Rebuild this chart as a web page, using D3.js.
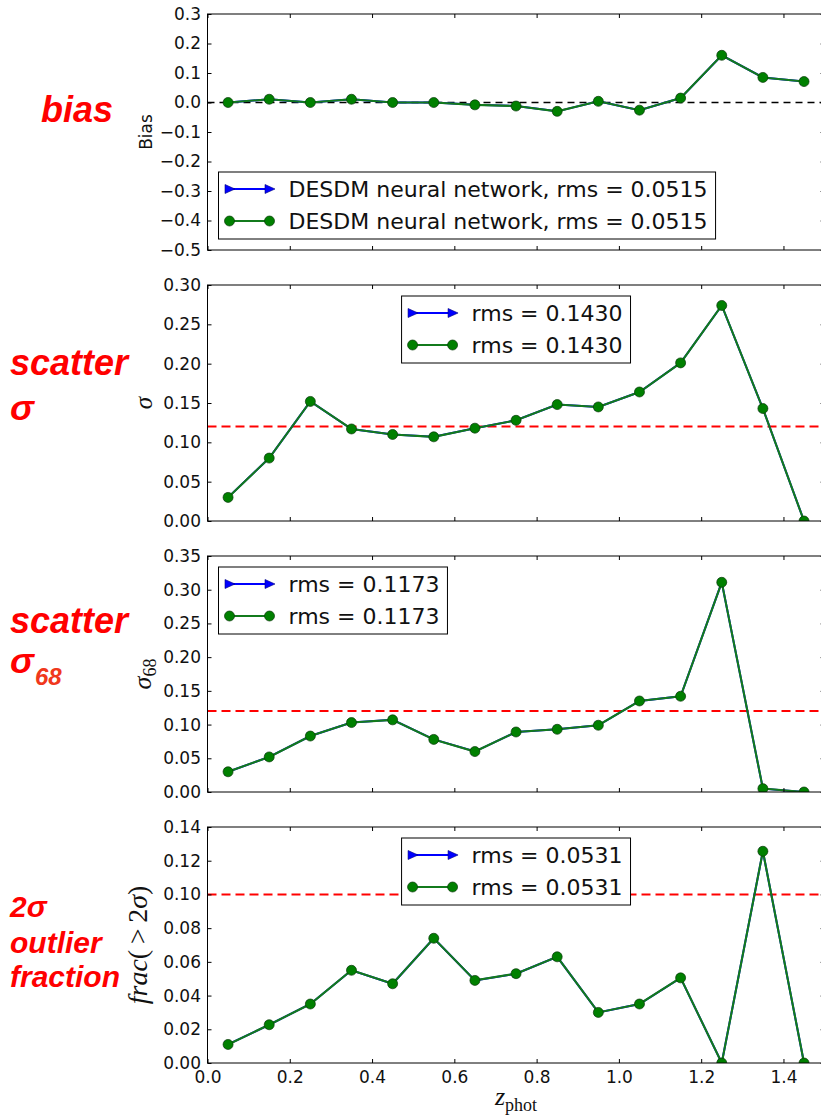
<!DOCTYPE html>
<html>
<head>
<meta charset="utf-8">
<script src="https://cdnjs.cloudflare.com/ajax/libs/d3/7.8.5/d3.min.js"></script>
<style>
  body { margin: 0; background: #fff; }
  svg { display: block; }
</style>
</head>
<body>
<div id="chart"></div>
<script>
// ---------------- data ----------------
var zBins = [0.05, 0.15, 0.25, 0.35, 0.45, 0.55, 0.65, 0.75, 0.85, 0.95, 1.05, 1.15, 1.25, 1.35, 1.45];

var biasValues    = [0.000, 0.011, 0.000, 0.011, 0.000, 0.000, -0.008, -0.012, -0.030, 0.004, -0.026, 0.015, 0.160, 0.085, 0.071];
var sigmaValues   = [0.030, 0.080, 0.152, 0.117, 0.110, 0.107, 0.118, 0.128, 0.148, 0.145, 0.164, 0.201, 0.274, 0.143, 0.000];
var sigma68Values = [0.030, 0.052, 0.083, 0.103, 0.107, 0.078, 0.060, 0.089, 0.093, 0.099, 0.135, 0.142, 0.311, 0.005, 0.000];
var outlierValues = [0.011, 0.0227, 0.035, 0.055, 0.047, 0.074, 0.049, 0.053, 0.063, 0.030, 0.035, 0.0505, 0.000, 0.1256, 0.000];

var xTicks        = [0.0, 0.2, 0.4, 0.6, 0.8, 1.0, 1.2, 1.4];
var biasTicks     = [-0.5, -0.4, -0.3, -0.2, -0.1, 0.0, 0.1, 0.2, 0.3];
var sigmaTicks    = [0.00, 0.05, 0.10, 0.15, 0.20, 0.25, 0.30];
var sigma68Ticks  = [0.00, 0.05, 0.10, 0.15, 0.20, 0.25, 0.30, 0.35];
var outlierTicks  = [0.00, 0.02, 0.04, 0.06, 0.08, 0.10, 0.12, 0.14];

var referenceLevels = [0.0, 0.12, 0.12, 0.10];
var legendLabels = [
  "DESDM neural network, rms = 0.0515",
  "rms = 0.1430",
  "rms = 0.1173",
  "rms = 0.0531"
];

// ---------------- style / layout ----------------
var attrs = {
  width: 821,
  height: 1118,
  plotLeft: 207.5,
  plotRight: 824.6,
  panelTop: 14,
  panelHeight: 236,
  panelGap: 35,
  tickLength: 4,
  tickFont: '"DejaVu Sans", sans-serif',
  tickFontSize: 17,
  legendFontSize: 22,
  mathFont: '"Liberation Serif", "DejaVu Serif", serif',
  sideFont: '"Liberation Sans", Arial, sans-serif',
  greenLine: '#137a1c',
  greenFill: '#008000',
  markerEdge: '#0a3a0a',
  blue: '#0000ff',
  red: '#ff0000'
};

var svg = d3.select('#chart').append('svg')
  .attr('width', attrs.width)
  .attr('height', attrs.height);

var x = d3.scaleLinear().domain([0, 1.5]).range([attrs.plotLeft, attrs.plotRight]);

var panels = [
  { values: biasValues,    domain: [-0.5, 0.3],  ticks: biasTicks,    fmt: '.1f', refColor: '#000', legendLoc: 'lowerleft'  },
  { values: sigmaValues,   domain: [0, 0.30],    ticks: sigmaTicks,   fmt: '.2f', refColor: attrs.red, legendLoc: 'uppercenter' },
  { values: sigma68Values, domain: [0, 0.35],    ticks: sigma68Ticks, fmt: '.2f', refColor: attrs.red, legendLoc: 'upperleft' },
  { values: outlierValues, domain: [0, 0.14],    ticks: outlierTicks, fmt: '.2f', refColor: attrs.red, legendLoc: 'uppercenter' }
];

function styleTicks(g, showText) {
  g.select('.domain').remove();
  g.selectAll('.tick line').attr('stroke', '#000').attr('stroke-width', 1);
  g.selectAll('.tick text')
    .attr('font-family', attrs.tickFont)
    .attr('font-size', attrs.tickFontSize)
    .attr('fill', '#111');
  if (!showText) g.selectAll('.tick text').remove();
}

// '>' marker of the blue series
function rightMarker(sel, cx, cy, s) {
  sel.append('path')
    .attr('d', 'M' + (cx - s) + ',' + (cy - s) + 'L' + (cx + s + 1) + ',' + cy + 'L' + (cx - s) + ',' + (cy + s) + 'Z')
    .attr('fill', attrs.blue)
    .attr('stroke', '#00007a')
    .attr('stroke-width', 0.6);
}

panels.forEach(function (p, i) {
  var top = attrs.panelTop + i * (attrs.panelHeight + attrs.panelGap);
  var bottom = top + attrs.panelHeight;
  var isLast = i === panels.length - 1;
  var y = d3.scaleLinear().domain(p.domain).range([bottom, top]);

  var g = svg.append('g').attr('class', 'panel panel' + i);

  g.append('clipPath').attr('id', 'clip' + i)
    .append('rect')
    .attr('x', attrs.plotLeft).attr('y', top)
    .attr('width', attrs.plotRight - attrs.plotLeft).attr('height', attrs.panelHeight);

  var plot = g.append('g').attr('clip-path', 'url(#clip' + i + ')');

  // reference level
  plot.append('line')
    .attr('x1', attrs.plotLeft).attr('x2', attrs.plotRight)
    .attr('y1', y(referenceLevels[i])).attr('y2', y(referenceLevels[i]))
    .attr('stroke', p.refColor)
    .attr('stroke-width', i === 0 ? 1.4 : 2)
    .attr('stroke-dasharray', i === 0 ? '7,5' : '9,5');

  var pts = zBins.map(function (z, k) { return [z, p.values[k]]; });
  var line = d3.line().x(function (d) { return x(d[0]); }).y(function (d) { return y(d[1]); });

  // blue series (hidden underneath the green one)
  plot.append('path').datum(pts)
    .attr('d', line).attr('fill', 'none')
    .attr('stroke', attrs.blue).attr('stroke-width', 2);
  pts.forEach(function (d) { rightMarker(plot, x(d[0]), y(d[1]), 3.5); });

  // green series
  plot.append('path').datum(pts)
    .attr('d', line).attr('fill', 'none')
    .attr('stroke', attrs.greenLine).attr('stroke-width', 2.1);
  plot.selectAll('circle.pt').data(pts).enter().append('circle')
    .attr('class', 'pt')
    .attr('cx', function (d) { return x(d[0]); })
    .attr('cy', function (d) { return y(d[1]); })
    .attr('r', 5)
    .attr('fill', attrs.greenFill)
    .attr('stroke', attrs.markerEdge)
    .attr('stroke-width', 0.7);

  // axes with inward ticks
  var yFmt = d3.format(p.fmt);
  g.append('g').attr('transform', 'translate(' + attrs.plotLeft + ',0)')
    .call(d3.axisLeft(y).tickValues(p.ticks).tickFormat(yFmt)
      .tickSizeInner(-attrs.tickLength).tickSizeOuter(0).tickPadding(6.5))
    .call(styleTicks, true);
  g.append('g').attr('transform', 'translate(' + attrs.plotRight + ',0)')
    .call(d3.axisRight(y).tickValues(p.ticks).tickSizeInner(-attrs.tickLength).tickSizeOuter(0))
    .call(styleTicks, false);
  g.append('g').attr('transform', 'translate(0,' + top + ')')
    .call(d3.axisTop(x).tickValues(xTicks).tickSizeInner(-attrs.tickLength).tickSizeOuter(0))
    .call(styleTicks, false);
  g.append('g').attr('transform', 'translate(0,' + bottom + ')')
    .call(d3.axisBottom(x).tickValues(xTicks).tickFormat(d3.format('.1f'))
      .tickSizeInner(-attrs.tickLength).tickSizeOuter(0).tickPadding(8))
    .call(styleTicks, isLast);

  // frame
  g.append('rect')
    .attr('x', attrs.plotLeft).attr('y', top)
    .attr('width', attrs.plotRight - attrs.plotLeft).attr('height', attrs.panelHeight)
    .attr('fill', 'none').attr('stroke', '#000').attr('stroke-width', 1);

  // legend
  var leg = g.append('g').attr('class', 'legend');
  var box = leg.append('rect').attr('fill', '#fff').attr('stroke', '#000').attr('stroke-width', 1);
  var texts = [];
  [0, 1].forEach(function () {
    texts.push(leg.append('text')
      .attr('font-family', attrs.tickFont)
      .attr('font-size', attrs.legendFontSize)
      .attr('fill', '#111')
      .attr('dy', '0.36em')
      .text(legendLabels[i]));
  });
  var textW = texts[0].node().getComputedTextLength();
  var boxW = 11 + 40 + 19 + textW + 8;
  var boxH = 67;
  var boxX, boxY;
  if (p.legendLoc === 'lowerleft') { boxX = attrs.plotLeft + 11; boxY = bottom - 11 - boxH; }
  else if (p.legendLoc === 'upperleft') { boxX = attrs.plotLeft + 11; boxY = top + 11; }
  else { boxX = (attrs.plotLeft + attrs.plotRight) / 2 - boxW / 2; boxY = top + 11; }
  box.attr('x', boxX).attr('y', boxY).attr('width', boxW).attr('height', boxH);
  var hx0 = boxX + 11, hx1 = hx0 + 40;
  var ey0 = boxY + 17, ey1 = boxY + 49;
  leg.append('line').attr('x1', hx0).attr('x2', hx1).attr('y1', ey0).attr('y2', ey0)
    .attr('stroke', attrs.blue).attr('stroke-width', 2.2);
  rightMarker(leg, hx0, ey0, 4.5);
  rightMarker(leg, hx1, ey0, 4.5);
  leg.append('line').attr('x1', hx0).attr('x2', hx1).attr('y1', ey1).attr('y2', ey1)
    .attr('stroke', attrs.greenLine).attr('stroke-width', 2.1);
  [hx0, hx1].forEach(function (cx) {
    leg.append('circle').attr('cx', cx).attr('cy', ey1).attr('r', 5)
      .attr('fill', attrs.greenFill).attr('stroke', attrs.markerEdge).attr('stroke-width', 0.7);
  });
  texts[0].attr('x', hx1 + 19).attr('y', ey0);
  texts[1].attr('x', hx1 + 19).attr('y', ey1);
  texts.forEach(function (t) { t.raise(); });
});

// ---------------- y-axis labels ----------------
function panelMid(i) {
  return attrs.panelTop + i * (attrs.panelHeight + attrs.panelGap) + attrs.panelHeight / 2;
}

svg.append('text')
  .attr('transform', 'translate(152,' + panelMid(0) + ') rotate(-90)')
  .attr('text-anchor', 'middle')
  .attr('font-family', attrs.tickFont).attr('font-size', 17).attr('fill', '#111')
  .text('Bias');

svg.append('text')
  .attr('transform', 'translate(152,' + panelMid(1) + ') rotate(-90)')
  .attr('text-anchor', 'middle')
  .attr('font-family', attrs.mathFont).attr('font-style', 'italic').attr('font-size', 25).attr('fill', '#111')
  .text('σ');

var s68 = svg.append('text')
  .attr('transform', 'translate(151,' + panelMid(2) + ') rotate(-90)')
  .attr('text-anchor', 'middle')
  .attr('font-family', attrs.mathFont).attr('font-size', 26).attr('fill', '#111');
s68.append('tspan').attr('font-style', 'italic').text('σ');
s68.append('tspan').attr('font-size', 18).attr('dy', 5).text('68');

var frac = svg.append('text')
  .attr('transform', 'translate(147,' + panelMid(3) + ') rotate(-90)')
  .attr('text-anchor', 'middle')
  .attr('font-family', attrs.mathFont).attr('font-size', 28).attr('fill', '#111');
frac.append('tspan').attr('font-style', 'italic').text('frac');
frac.append('tspan').text('(\u2009>\u20092');
frac.append('tspan').attr('font-style', 'italic').text('σ');
frac.append('tspan').text(')');

// x-axis label
var xl = svg.append('text')
  .attr('x', (attrs.plotLeft + attrs.plotRight) / 2)
  .attr('y', 1105)
  .attr('text-anchor', 'middle')
  .attr('font-family', attrs.mathFont).attr('font-size', 26).attr('fill', '#111');
xl.append('tspan').attr('font-style', 'italic').text('z');
xl.append('tspan').attr('font-size', 18).attr('dy', 6).text('phot');

// ---------------- red side annotations ----------------
var sideLabels = [
  { text: 'bias',     x: 41, y: 122, size: 36 },
  { text: 'scatter',  x: 10, y: 375, size: 36 },
  { text: 'σ',        x: 10, y: 420, size: 36 },
  { text: 'scatter',  x: 10, y: 633, size: 36 },
  { text: 'σ',        x: 10, y: 673, size: 36 },
  { text: '2σ',       x: 10, y: 917, size: 30 },
  { text: 'outlier',  x: 10, y: 953, size: 30 },
  { text: 'fraction', x: 10, y: 987, size: 30 }
];

svg.selectAll('text.side').data(sideLabels).enter().append('text')
  .attr('class', 'side')
  .attr('x', function (d) { return d.x; })
  .attr('y', function (d) { return d.y; })
  .attr('font-family', attrs.sideFont)
  .attr('font-weight', 'bold')
  .attr('font-style', 'italic')
  .attr('font-size', function (d) { return d.size; })
  .attr('fill', attrs.red)
  .text(function (d) { return d.text; });

svg.append('text')
  .attr('x', 35).attr('y', 685)
  .attr('font-family', attrs.sideFont)
  .attr('font-weight', 'bold').attr('font-style', 'italic')
  .attr('font-size', 24)
  .attr('fill', '#f0381c')
  .text('68');
</script>
</body>
</html>
